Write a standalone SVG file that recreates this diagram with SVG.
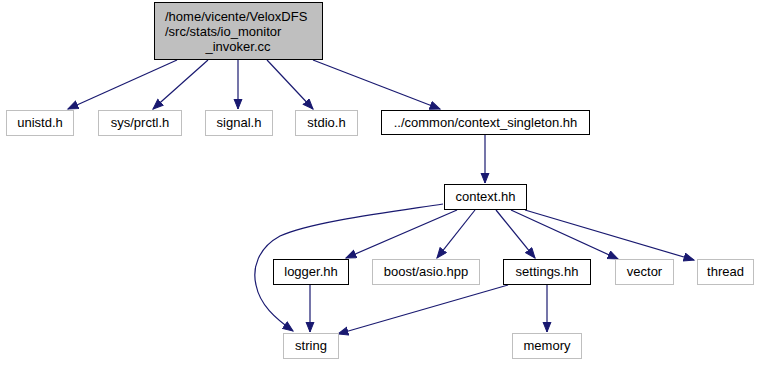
<svg xmlns="http://www.w3.org/2000/svg" width="761" height="365" viewBox="0 0 761 365">
  <style>
    text { font-family: "Liberation Sans", Arial, sans-serif; font-size: 13px; fill: #000; }
    .c { text-anchor: middle; }
    .doc { fill: #fff; stroke: #000; stroke-width: 1; }
    .ext { fill: #fff; stroke: #bfbfbf; stroke-width: 1; }
    .root { fill: #bfbfbf; stroke: #000; stroke-width: 1; }
    .edge { fill: none; stroke: #191970; stroke-width: 1.2; marker-end: url(#arrow); }
  </style>
  <defs>
    <marker id="arrow" markerUnits="userSpaceOnUse" markerWidth="14" markerHeight="12" refX="10.5" refY="4.5" orient="auto">
      <path d="M0.5,0.5 L10.5,4.5 L0.5,8.5 Z" fill="#191970" stroke="#191970" stroke-width="1"/>
    </marker>
  </defs>

  <g id="edges">
    <path class="edge" d="M177,60 L68,109"/>
    <path class="edge" d="M208,60 L153,109"/>
    <path class="edge" d="M238,60 L238,109"/>
    <path class="edge" d="M267,60 L313,109"/>
    <path class="edge" d="M313,60 L440,109"/>
    <path class="edge" d="M485,135 L485,183"/>
    <path class="edge" d="M443,204 C390,212 310,222 280,236 C258,248 252,268 256,285 C260,305 275,318 293,331"/>
    <path class="edge" d="M457,210 L346,258"/>
    <path class="edge" d="M475,210 L437,258"/>
    <path class="edge" d="M496,210 L535,258"/>
    <path class="edge" d="M511,210 L618,259"/>
    <path class="edge" d="M525,210 L694,260"/>
    <path class="edge" d="M310,285 L310,332"/>
    <path class="edge" d="M508,285 L338,334"/>
    <path class="edge" d="M547,285 L547,332"/>
  </g>

  <g id="node-root">
    <rect class="root" x="154.5" y="2.5" width="168" height="57"/>
    <text x="165" y="21">/home/vicente/VeloxDFS</text>
    <text x="165" y="36">/src/stats/io_monitor</text>
    <text class="c" x="238" y="51">_invoker.cc</text>
  </g>
  <g id="node-unistd">
    <rect class="ext" x="6.5" y="110.5" width="67" height="25"/>
    <text class="c" x="40" y="127">unistd.h</text>
  </g>
  <g id="node-prctl">
    <rect class="ext" x="98.5" y="110.5" width="83" height="25"/>
    <text class="c" x="140" y="127">sys/prctl.h</text>
  </g>
  <g id="node-signal">
    <rect class="ext" x="205.5" y="110.5" width="67" height="25"/>
    <text class="c" x="239" y="127">signal.h</text>
  </g>
  <g id="node-stdio">
    <rect class="ext" x="295.5" y="110.5" width="62" height="25"/>
    <text class="c" x="326.5" y="127">stdio.h</text>
  </g>
  <g id="node-context-singleton">
    <rect class="doc" x="381.5" y="110.5" width="208" height="24"/>
    <text class="c" x="485.5" y="127">../common/context_singleton.hh</text>
  </g>
  <g id="node-context">
    <rect class="doc" x="444.5" y="184.5" width="82" height="25"/>
    <text class="c" x="485.5" y="201">context.hh</text>
  </g>
  <g id="node-logger">
    <rect class="doc" x="273.5" y="259.5" width="75" height="25"/>
    <text class="c" x="311" y="276">logger.hh</text>
  </g>
  <g id="node-asio">
    <rect class="ext" x="372.5" y="259.5" width="107" height="25"/>
    <text class="c" x="426" y="276">boost/asio.hpp</text>
  </g>
  <g id="node-settings">
    <rect class="doc" x="503.5" y="259.5" width="87" height="25"/>
    <text class="c" x="547" y="276">settings.hh</text>
  </g>
  <g id="node-vector">
    <rect class="ext" x="615.5" y="259.5" width="58" height="25"/>
    <text class="c" x="644.5" y="276">vector</text>
  </g>
  <g id="node-thread">
    <rect class="ext" x="697.5" y="259.5" width="56" height="25"/>
    <text class="c" x="725.5" y="276">thread</text>
  </g>
  <g id="node-string">
    <rect class="ext" x="283.5" y="333.5" width="55" height="25"/>
    <text class="c" x="311" y="350">string</text>
  </g>
  <g id="node-memory">
    <rect class="ext" x="512.5" y="333.5" width="69" height="25"/>
    <text class="c" x="547" y="350">memory</text>
  </g>
</svg>
